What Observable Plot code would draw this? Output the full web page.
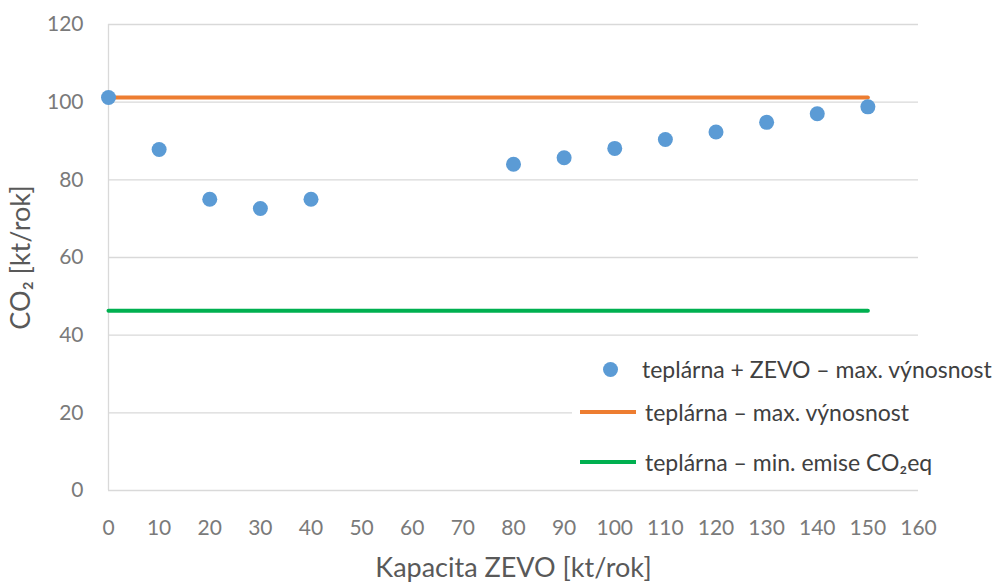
<!DOCTYPE html>
<html><head><meta charset="utf-8">
<script src="https://cdn.jsdelivr.net/npm/d3@7"></script>
<script src="https://cdn.jsdelivr.net/npm/@observablehq/plot@0.6"></script>
<style>
body{margin:0;background:#fff;}
#wrap{position:relative;width:998px;height:583px;font-family:Lato,"Open Sans",sans-serif;}
#legend{position:absolute;left:572px;top:346px;width:426px;height:136px;background:#fff;}
.row{position:absolute;left:0;height:30px;display:flex;align-items:center;font-size:23px;color:#404040;white-space:nowrap;}
.sw{display:inline-block;}
</style></head>
<body><div id="wrap"><div id="legend"></div></div>
<script>
// data
const capacity = [0, 10, 20, 30, 40, 80, 90, 100, 110, 120, 130, 140, 150];
const emissions = [101.2, 87.8, 75.0, 72.6, 75.0, 84.0, 85.7, 88.1, 90.4, 92.3, 94.8, 97.0, 98.8];
const lineRange = [0, 150];
const maxYield = [101.2, 101.2];
const minEmission = [46.3, 46.3];
const xTicks = d3.range(0, 161, 10);
const yTicks = [0, 20, 40, 60, 80, 100, 120];
const seriesNames = ["teplárna + ZEVO – max. výnosnost", "teplárna – max. výnosnost", "teplárna – min. emise CO₂eq"];
const colors = ["#5b9bd5", "#ed7d31", "#00b050"];

const pts = capacity.map((c, i) => ({x: c, y: emissions[i]}));
const orange = lineRange.map((x, i) => ({x, y: maxYield[i]}));
const green = lineRange.map((x, i) => ({x, y: minEmission[i]}));

const chart = Plot.plot({
  width: 998, height: 583,
  marginLeft: 108, marginRight: 80, marginTop: 24, marginBottom: 93,
  style: {fontFamily: "Lato, 'Open Sans', sans-serif", background: "#fff"},
  x: {domain: [0, 160], ticks: xTicks},
  y: {domain: [0, 120], ticks: yTicks},
  marks: [
    Plot.gridY(yTicks, {stroke: "#d9d9d9", strokeOpacity: 1, strokeWidth: 1.3}),
    Plot.ruleX([0], {stroke: "#d9d9d9", strokeWidth: 1.3}),
    Plot.axisY(yTicks, {tickSize: 0, tickPadding: 25, fontSize: 21, color: "#7a7a7a",
      label: "CO₂ [kt/rok]", labelAnchor: "center", labelOffset: 98, labelArrow: "none"}),
    Plot.axisX(xTicks, {tickSize: 0, tickPadding: 30, fontSize: 21, color: "#7a7a7a",
      label: "Kapacita ZEVO [kt/rok]", labelAnchor: "center", labelOffset: 86, labelArrow: "none"}),
    Plot.line(orange, {x: "x", y: "y", stroke: colors[1], strokeWidth: 4}),
    Plot.line(green, {x: "x", y: "y", stroke: colors[2], strokeWidth: 4}),
    Plot.dot(pts, {x: "x", y: "y", r: 7.5, fill: colors[0], stroke: "none"})
  ]
});
// style axis labels
d3.select(chart).selectAll("g[aria-label='y-axis label'], g[aria-label='x-axis label']")
  .attr("fill", "#595959").attr("font-size", 27);
d3.select(chart).selectAll("g[aria-label='y-axis label'] text, g[aria-label='x-axis label'] text")
  .attr("font-size", 27).attr("fill", "#595959");
document.getElementById("wrap").prepend(chart);

// legend
const legend = d3.select("#legend");
const rows = [{top: 8, type: "dot"}, {top: 51, type: "line"}, {top: 101, type: "line"}];
rows.forEach((r, i) => {
  const row = legend.append("div").attr("class", "row").style("top", r.top + "px");
  const sw = row.append("span").attr("class", "sw");
  if (r.type === "dot") {
    sw.style("width", "15px").style("height", "15px").style("border-radius", "50%")
      .style("background", colors[i]).style("margin-left", "31px").style("margin-right", "24px");
  } else {
    sw.style("width", "56px").style("height", "4px").style("background", colors[i])
      .style("margin-left", "8px").style("margin-right", "9px");
  }
  row.append("span").text(seriesNames[i]);
});
</script></body></html>
